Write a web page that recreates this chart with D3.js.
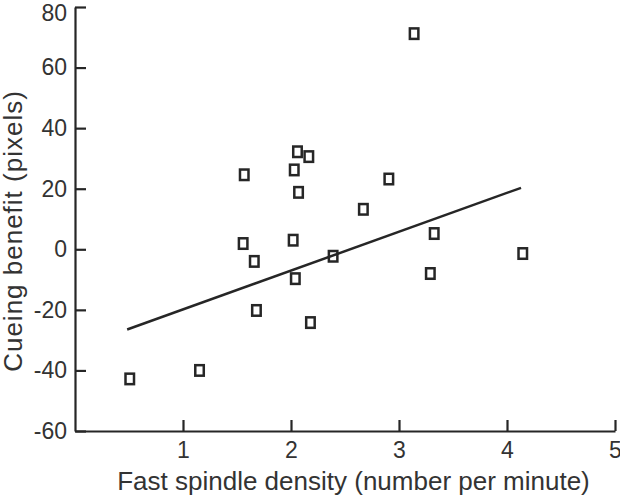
<!DOCTYPE html>
<html>
<head>
<meta charset="utf-8">
<script src="https://cdn.jsdelivr.net/npm/d3@7"></script>
<style>
  html, body { margin: 0; padding: 0; background: #fff; }
  svg { display: block; }
  text { font-family: "Liberation Sans", Arial, Helvetica, sans-serif; fill: #333; }
</style>
</head>
<body>
<svg id="chart" width="620" height="495"></svg>
<script>
// Data
const spindleDensity = [3.14, 2.06, 2.165, 1.567, 2.03, 2.07, 2.906, 2.67, 1.557, 2.02, 1.66, 2.04, 2.39, 1.68, 2.18, 1.153, 0.507, 3.326, 4.146, 3.29];
const cueingBenefit  = [71.2, 32.2, 30.6, 24.6, 26.2, 18.8, 23.2, 13.2, 1.9, 3.0, -4.0, -9.7, -2.3, -20.2, -24.2, -40.0, -42.8, 5.2, -1.4, -8.0];
const fitX = [0.483, 4.13];
const fitY = [-26.5, 20.3];
const xTicks = [1, 2, 3, 4, 5];
const yTicks = [-60, -40, -20, 0, 20, 40, 60, 80];
const xTitle = "Fast spindle density (number per minute)";
const yTitle = "Cueing benefit (pixels)";

const svg = d3.select("#chart");
const x = d3.scaleLinear().domain([0, 5]).range([75, 615]);
const y = d3.scaleLinear().domain([-60, 80]).range([431, 7]);
const ink = "#262626";
const fmt = d => String(d);

// X axis
const gx = svg.append("g").attr("transform", `translate(0,${y(-60)})`)
  .call(d3.axisBottom(x).tickValues(xTicks).tickFormat(fmt).tickSizeInner(-11).tickSizeOuter(0).tickPadding(11));
gx.select(".domain").attr("stroke", ink).attr("stroke-width", 2.2);
gx.selectAll(".tick line").attr("stroke", ink).attr("stroke-width", 2.2);
gx.selectAll(".tick text").attr("font-size", 23).attr("fill", "#333")
  .attr("font-family", "Liberation Sans, Arial, sans-serif");

// Y axis
const gy = svg.append("g").attr("transform", `translate(${x(0)},0)`)
  .call(d3.axisLeft(y).tickValues(yTicks).tickFormat(fmt).tickSizeInner(-11).tickSizeOuter(0).tickPadding(8));
gy.select(".domain").attr("stroke", ink).attr("stroke-width", 2.2);
gy.selectAll(".tick line").attr("stroke", ink).attr("stroke-width", 2.2);
gy.selectAll(".tick text").attr("font-size", 23).attr("fill", "#333")
  .attr("font-family", "Liberation Sans, Arial, sans-serif");
gy.selectAll(".tick text").filter(d => d === 80).attr("dy", "0.6em");

// Fit line
svg.append("path")
  .datum(fitX.map((v, i) => [v, fitY[i]]))
  .attr("d", d3.line().x(d => x(d[0])).y(d => y(d[1])))
  .attr("fill", "none").attr("stroke", ink).attr("stroke-width", 2.5);

// Points
const pts = spindleDensity.map((v, i) => ({ x: v, y: cueingBenefit[i] }));
const w = 8.5, h = 10.5;
svg.append("g").selectAll("rect").data(pts).join("rect")
  .attr("x", d => x(d.x) - w / 2)
  .attr("y", d => y(d.y) - h / 2)
  .attr("width", w).attr("height", h)
  .attr("fill", "none").attr("stroke", ink).attr("stroke-width", 2.5);

// Titles
svg.append("text")
  .attr("x", 353.5).attr("y", 490)
  .attr("text-anchor", "middle").attr("font-size", 26)
  .text(xTitle);

svg.append("text")
  .attr("transform", `translate(21.5,231) rotate(-90)`)
  .attr("text-anchor", "middle").attr("font-size", 26).attr("letter-spacing", 1)
  .text(yTitle);
</script>
</body>
</html>
